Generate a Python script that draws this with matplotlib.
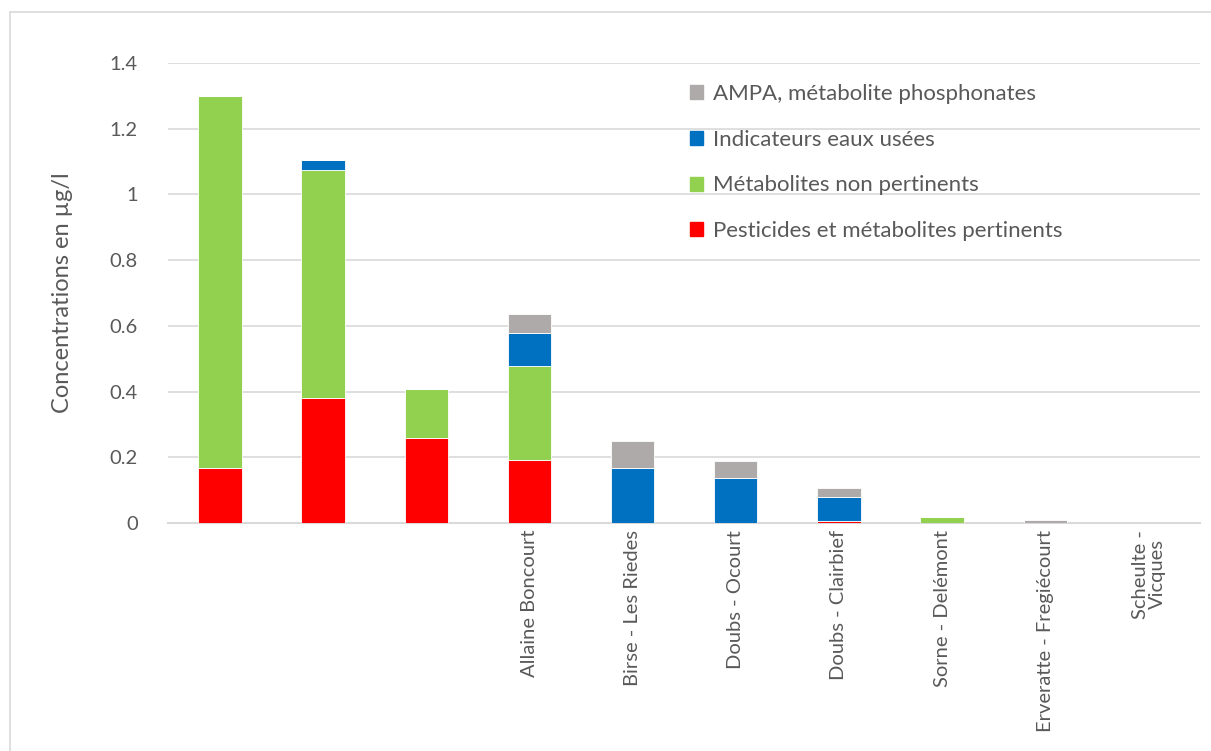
import matplotlib
matplotlib.use("Agg")
from matplotlib import pyplot as plt
from matplotlib.patches import Rectangle, Patch
import numpy as np

plt.rcParams['font.family'] = ['Lato', 'DejaVu Sans']

sites = ["", "", "", "Allaine Boncourt", "Birse - Les Riedes", "Doubs - Ocourt",
         "Doubs - Clairbief", "Sorne - Delémont", "Erveratte - Fregiécourt",
         "Scheulte -\nVicques"]

pesticides = [0.167, 0.38, 0.259, 0.192, 0.0, 0.0, 0.005, 0.0, 0.0, 0.0]
metabolites = [1.133, 0.695, 0.149, 0.286, 0.0, 0.0, 0.0, 0.018, 0.0, 0.0]
eaux_usees = [0.0, 0.03, 0.0, 0.10, 0.167, 0.137, 0.074, 0.0, 0.0, 0.0]
ampa = [0.0, 0.0, 0.0, 0.058, 0.083, 0.052, 0.028, 0.0, 0.009, 0.0]

labels = ["Pesticides et métabolites pertinents", "Métabolites non pertinents",
          "Indicateurs eaux usées", "AMPA, métabolite phosphonates"]
colors = ["#FF0000", "#92D050", "#0070C0", "#AEAAAA"]
series = [pesticides, metabolites, eaux_usees, ampa]

text_color = "#595959"

fig = plt.figure(figsize=(12.11, 7.51), dpi=100)
ax = fig.add_axes([0.139, 0.3036, 0.852, 0.6125])

x = np.arange(len(sites))
bottom = np.zeros(len(sites))
for vals, col in zip(series, colors):
    ax.bar(x, vals, bottom=bottom, width=0.42, color=col,
           edgecolor="white", linewidth=0.6, zorder=3)
    bottom += np.array(vals)

ax.set_ylim(0, 1.4)
ax.set_xlim(-0.5, len(sites) - 0.5)
ax.set_yticks(np.arange(0, 1.41, 0.2))
ax.set_yticklabels(["0", "0.2", "0.4", "0.6", "0.8", "1", "1.2", "1.4"])
ax.yaxis.grid(True, color="#D9D9D9", linewidth=1.2, zorder=0)
ax.set_xticks(x)
ax.set_xticklabels(sites, rotation=90, va="top", ha="center", linespacing=1.0)
ax.tick_params(axis="both", length=0, colors=text_color)
ax.tick_params(axis="y", pad=22, labelsize=14.5)
ax.tick_params(axis="x", pad=5, labelsize=14.5)
for s in ["top", "right", "left"]:
    ax.spines[s].set_visible(False)
ax.spines["bottom"].set_color("#D9D9D9")
ax.spines["bottom"].set_linewidth(1.5)

ax.set_ylabel("Concentrations en µg/l", fontsize=17, color=text_color, labelpad=26)

handles = [Patch(color=c) for c in colors][::-1]
leg = fig.legend(handles, labels[::-1], loc="upper left",
                 bbox_to_anchor=(0.553, 0.915), frameon=False, fontsize=16,
                 labelspacing=1.16, handlelength=0.6, handleheight=0.6,
                 handletextpad=0.45)
for t in leg.get_texts():
    t.set_color(text_color)

# outer chart frame
fig.patches.append(Rectangle((10 / 1211, -0.1), 1.2, 1 - 12 / 751 + 0.1,
                             transform=fig.transFigure, fill=False,
                             edgecolor="#D9D9D9", linewidth=1.2))

fig.savefig("out.png", dpi=100)
